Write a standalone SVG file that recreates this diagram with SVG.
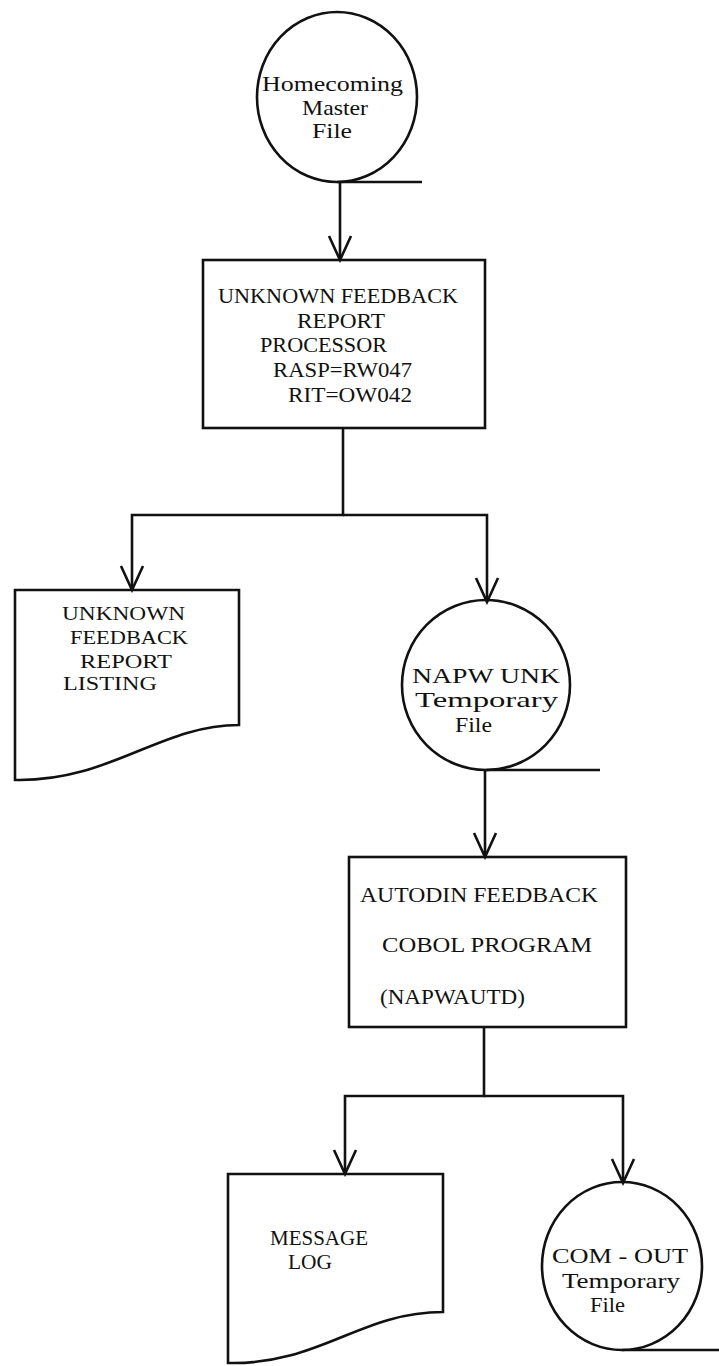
<svg xmlns="http://www.w3.org/2000/svg" width="719" height="1366" viewBox="0 0 719 1366">
<style>
.s{fill:none;stroke:#111;stroke-width:2.6}
.t{font-family:"Liberation Serif","Times New Roman",serif;font-size:21px;fill:#111}
.d{font-size:19px}
</style>
<defs>
<marker id="ah" viewBox="0 0 28 28" refX="25" refY="14" markerWidth="28" markerHeight="28" markerUnits="userSpaceOnUse" orient="auto">
<path d="M1,3 L25,14 L1,25" fill="none" stroke="#111" stroke-width="2.6"/>
</marker>
</defs>
<rect width="719" height="1366" fill="#fff"/>
<g id="connectors">
<path class="s" d="M340,182 V260" marker-end="url(#ah)"/>
<path class="s" d="M343,428 V515 H132 V590" marker-end="url(#ah)"/>
<path class="s" d="M343,515 H487 V602" marker-end="url(#ah)"/>
<path class="s" d="M485,770 V857" marker-end="url(#ah)"/>
<path class="s" d="M484,1027 V1096 H345 V1174" marker-end="url(#ah)"/>
<path class="s" d="M484,1096 H623 V1183" marker-end="url(#ah)"/>
</g>
<g id="homecoming-master-file">
<ellipse class="s" cx="337" cy="97" rx="80" ry="85"/>
<path class="s" d="M337,182 H422"/>
<text class="t" x="262" y="91" textLength="141" lengthAdjust="spacingAndGlyphs">Homecoming</text>
<text class="t" x="302" y="115" textLength="66" lengthAdjust="spacingAndGlyphs">Master</text>
<text class="t" x="312" y="138" textLength="40" lengthAdjust="spacingAndGlyphs">File</text>
</g>
<g id="unknown-feedback-report-processor">
<rect class="s" x="203" y="260" width="282" height="168"/>
<text class="t" x="218" y="303" textLength="240" lengthAdjust="spacingAndGlyphs">UNKNOWN FEEDBACK</text>
<text class="t" x="297" y="328" textLength="88" lengthAdjust="spacingAndGlyphs">REPORT</text>
<text class="t" x="260" y="352" textLength="127" lengthAdjust="spacingAndGlyphs">PROCESSOR</text>
<text class="t" x="273" y="377" textLength="139" lengthAdjust="spacingAndGlyphs">RASP=RW047</text>
<text class="t" x="288" y="402" textLength="124" lengthAdjust="spacingAndGlyphs">RIT=OW042</text>
</g>
<g id="unknown-feedback-report-listing">
<path class="s" d="M15,590 H239 V725 C160,725 110,782 15,780 Z"/>
<text class="t d" x="62" y="620" textLength="123" lengthAdjust="spacingAndGlyphs">UNKNOWN</text>
<text class="t d" x="70" y="644" textLength="118" lengthAdjust="spacingAndGlyphs">FEEDBACK</text>
<text class="t d" x="80" y="668" textLength="92" lengthAdjust="spacingAndGlyphs">REPORT</text>
<text class="t d" x="63" y="690" textLength="94" lengthAdjust="spacingAndGlyphs">LISTING</text>
</g>
<g id="napw-unk-temporary-file">
<ellipse class="s" cx="486" cy="685" rx="84" ry="85"/>
<path class="s" d="M486,770 H600"/>
<text class="t" x="412" y="683" textLength="148" lengthAdjust="spacingAndGlyphs">NAPW UNK</text>
<text class="t" x="415" y="707" textLength="143" lengthAdjust="spacingAndGlyphs">Temporary</text>
<text class="t" x="455" y="732" textLength="37" lengthAdjust="spacingAndGlyphs">File</text>
</g>
<g id="autodin-feedback-cobol-program">
<rect class="s" x="349" y="857" width="277" height="170"/>
<text class="t" x="360" y="902" textLength="238" lengthAdjust="spacingAndGlyphs">AUTODIN  FEEDBACK</text>
<text class="t" x="382" y="952" textLength="210" lengthAdjust="spacingAndGlyphs">COBOL  PROGRAM</text>
<text class="t" x="380" y="1004" textLength="145" lengthAdjust="spacingAndGlyphs">(NAPWAUTD)</text>
</g>
<g id="message-log">
<path class="s" d="M228,1174 H443 V1312 C360,1312 320,1365 228,1363 Z"/>
<text class="t" x="270" y="1245" textLength="98" lengthAdjust="spacingAndGlyphs">MESSAGE</text>
<text class="t" x="288" y="1269" textLength="44" lengthAdjust="spacingAndGlyphs">LOG</text>
</g>
<g id="com-out-temporary-file">
<ellipse class="s" cx="622" cy="1266" rx="80" ry="84"/>
<path class="s" d="M622,1350 H719"/>
<text class="t" x="552" y="1263" textLength="136" lengthAdjust="spacingAndGlyphs">COM - OUT</text>
<text class="t" x="562" y="1288" textLength="118" lengthAdjust="spacingAndGlyphs">Temporary</text>
<text class="t" x="590" y="1312" textLength="35" lengthAdjust="spacingAndGlyphs">File</text>
</g>
</svg>
